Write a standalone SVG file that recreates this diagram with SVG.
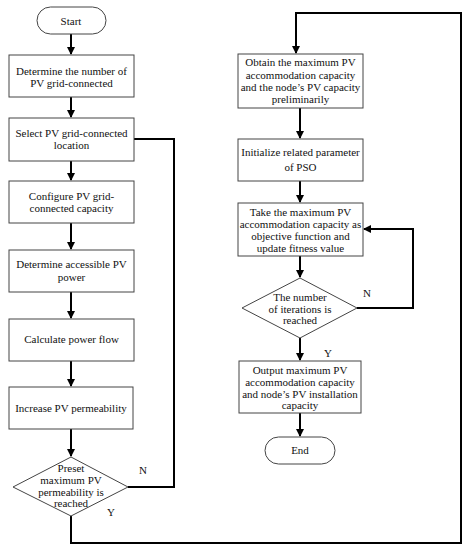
<svg xmlns="http://www.w3.org/2000/svg" width="467" height="550" viewBox="0 0 467 550">
<style>
.n{fill:#fff;stroke:#444;stroke-width:1}
.t{font-family:"Liberation Serif","Times New Roman",serif;font-size:11px;fill:#111;text-anchor:middle}
.c{fill:none;stroke:#000;stroke-width:2}
</style>
<defs>
<marker id="a" markerWidth="8" markerHeight="8" refX="7" refY="4" orient="auto" markerUnits="userSpaceOnUse">
<path d="M0,0 L8,4 L0,8 Z" fill="#000"/>
</marker>
</defs>
<rect width="467" height="550" fill="#fff"/>
<g id="connectors">
<path class="c" d="M71,34 V54" marker-end="url(#a)"/>
<path class="c" d="M71,97 V117" marker-end="url(#a)"/>
<path class="c" d="M71,161 V180" marker-end="url(#a)"/>
<path class="c" d="M71,223 V249" marker-end="url(#a)"/>
<path class="c" d="M71,292 V318" marker-end="url(#a)"/>
<path class="c" d="M71,361 V386" marker-end="url(#a)"/>
<path class="c" d="M71,429 V456" marker-end="url(#a)"/>
<path class="c" d="M128,487 H174 V139 H134"/>
<path class="c" d="M71,516 V543 H461 V13 H296 V53" marker-end="url(#a)"/>
<path class="c" d="M300,108 V138" marker-end="url(#a)"/>
<path class="c" d="M300,181 V202" marker-end="url(#a)"/>
<path class="c" d="M300,256 V277" marker-end="url(#a)"/>
<path class="c" d="M357,308 H413 V229 H364" marker-end="url(#a)"/>
<path class="c" d="M300,338 V360" marker-end="url(#a)"/>
<path class="c" d="M300,413 V436" marker-end="url(#a)"/>
</g>
<g id="start"><rect class="n" x="37" y="7" width="69" height="27" rx="13.5"/><text class="t" x="71" y="25">Start</text></g>
<g id="box1"><rect class="n" x="9" y="55" width="125" height="42"/><text class="t" x="71.5" y="75">Determine the number of</text><text class="t" x="71.5" y="86.5">PV grid-connected</text></g>
<g id="box2"><rect class="n" x="9" y="118" width="125" height="43"/><text class="t" x="71.5" y="137">Select PV grid-connected</text><text class="t" x="71.5" y="149">location</text></g>
<g id="box3"><rect class="n" x="9" y="181" width="125" height="42"/><text class="t" x="71.5" y="200">Configure PV grid-</text><text class="t" x="71.5" y="212">connected capacity</text></g>
<g id="box4"><rect class="n" x="9" y="250" width="125" height="42"/><text class="t" x="71.5" y="268">Determine accessible PV</text><text class="t" x="71.5" y="281">power</text></g>
<g id="box5"><rect class="n" x="9" y="319" width="125" height="42"/><text class="t" x="71.5" y="343">Calculate power flow</text></g>
<g id="box6"><rect class="n" x="9" y="387" width="124" height="42"/><text class="t" x="71" y="412">Increase PV permeability</text></g>
<g id="diamond1"><polygon class="n" points="71,457 128,487 71,516 13,487"/><text class="t" x="71" y="472">Preset</text><text class="t" x="71" y="483.5">maximum PV</text><text class="t" x="71" y="495.5">permeability is</text><text class="t" x="71" y="507">reached</text></g>
<text class="t" x="143" y="474">N</text>
<text class="t" x="111" y="516">Y</text>
<g id="rbox1"><rect class="n" x="238" y="54" width="125" height="54"/><text class="t" x="300.5" y="66">Obtain the maximum PV</text><text class="t" x="300.5" y="78.5">accommodation capacity</text><text class="t" x="300.5" y="91">and the node’s PV capacity</text><text class="t" x="300.5" y="103">preliminarily</text></g>
<g id="rbox2"><rect class="n" x="238" y="139" width="125" height="42"/><text class="t" x="300.5" y="156">Initialize related parameter</text><text class="t" x="300.5" y="171">of PSO</text></g>
<g id="rbox3"><rect class="n" x="238" y="203" width="125" height="53"/><text class="t" x="300.5" y="216">Take the maximum PV</text><text class="t" x="300.5" y="228">accommodation capacity as</text><text class="t" x="300.5" y="240">objective function and</text><text class="t" x="300.5" y="251.5">update fitness value</text></g>
<g id="diamond2"><polygon class="n" points="300,278 357,308 300,338 242,308"/><text class="t" x="300" y="301">The  number</text><text class="t" x="300" y="312.5">of  iterations is</text><text class="t" x="300" y="324">reached</text></g>
<text class="t" x="367" y="297">N</text>
<text class="t" x="328" y="357">Y</text>
<g id="rbox4"><rect class="n" x="239" y="361" width="122" height="52"/><text class="t" x="300" y="374">Output maximum PV</text><text class="t" x="300" y="386">accommodation capacity</text><text class="t" x="300" y="397.5">and node’s PV installation</text><text class="t" x="300" y="409">capacity</text></g>
<g id="end"><rect class="n" x="265" y="437" width="70" height="27" rx="13.5"/><text class="t" x="300" y="454">End</text></g>
</svg>
